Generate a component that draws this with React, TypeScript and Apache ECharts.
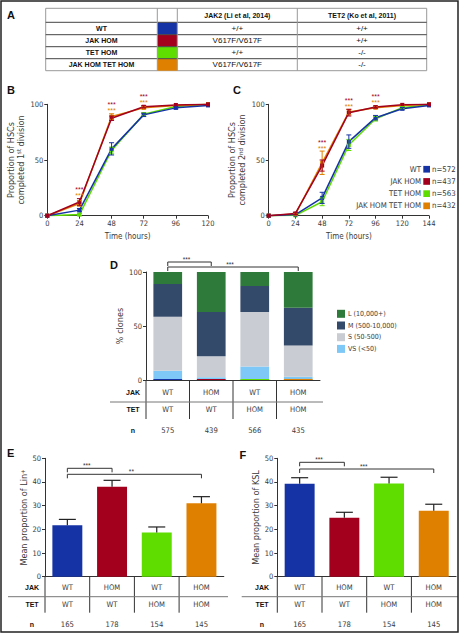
import React, { useEffect, useRef } from "react";
import * as echarts from "echarts";

// ---------------- Data ----------------
const GROUPS = ["WT", "JAK HOM", "TET HOM", "JAK HOM TET HOM"];
const JAK2_ALLELES = ["+/+", "V617F/V617F", "+/+", "V617F/V617F"];
const TET2_ALLELES = ["+/+", "+/+", "-/-", "-/-"];
const TABLE_A_HEADERS = ["JAK2 (Li et al, 2014)", "TET2 (Ko et al, 2011)"];
const GROUP_N_DIV = [572, 437, 563, 432];

// Panel B: completed 1st division (%)
const TIMES_B = [0, 24, 48, 72, 96, 120];
const B_WT = [0, 5, 60, 90.5, 96.8, 99];
const B_JAK = [0, 12.3, 87.5, 97.8, 99.4, 100];
const B_TET = [0, 1, 58.5, 91, 98, 100];
const B_JT = [0, 11, 89, 96.8, 99, 100];
const B_WT_ERR = [0, 1.5, 5.5, 1.5, 1, 0.5];
const B_JAK_ERR = [0, 3, 2, 1, 0.5, 0];
const B_TET_ERR = [0, 1, 3, 1.5, 0.5, 0];
const B_JT_ERR = [0, 2.5, 2.5, 1, 0.5, 0];
const B_STAR_TIMES = [24, 48, 72];

// Panel C: completed 2nd division (%)
const TIMES_C = [0, 24, 48, 72, 96, 120, 144];
const C_WT = [0, 1, 16, 66.5, 88, 96, 99];
const C_JAK = [0, 2, 45, 92.5, 97.5, 99.5, 100];
const C_TET = [0, 0.3, 12.5, 63.5, 87, 97, 99.8];
const C_JT = [0, 1.5, 47.5, 93, 97, 99, 100];
const C_WT_ERR = [0, 0.5, 5, 6, 2, 1, 0.5];
const C_JAK_ERR = [0, 1, 5, 3, 1, 0.5, 0];
const C_TET_ERR = [0, 0.5, 3.5, 5, 2, 1, 0.5];
const C_JT_ERR = [0, 1, 10.5, 2.5, 1, 0.5, 0];
const C_STAR_TIMES = [48, 72, 96];

// Panel D: clone size distribution (% clones)
const CLONE_CLASSES = ["VS (<50)", "S (50-500)", "M (500-10,000)", "L (10,000+)"];
const D_VS = [8.5, 2.5, 12.5, 3];
const D_S = [50, 19.5, 50.5, 29];
const D_M = [30.5, 41, 24, 35];
const D_L = [11, 37, 13, 33];
const D_JAK = ["WT", "HOM", "WT", "HOM"];
const D_TET = ["WT", "WT", "HOM", "HOM"];
const D_N = [575, 439, 566, 435];
const D_SIG = [[0, 1, 0], [0, 3, 1]];
const D_SIG_LABELS = ["***", "***"];

// Panel E: mean proportion of Lin+
const E_MEAN = [21.7, 38, 18.7, 31];
const E_SEM = [2.5, 2.7, 2.3, 2.8];
const E_JAK = ["WT", "HOM", "WT", "HOM"];
const E_TET = ["WT", "WT", "HOM", "HOM"];
const E_N = [165, 178, 154, 145];
const E_SIG = [[0, 1, 0], [0, 3, 1]];
const E_SIG_LABELS = ["***", "**"];

// Panel F: mean proportion of KSL
const F_MEAN = [39.2, 24.9, 39.4, 27.9];
const F_SEM = [2.6, 2.3, 2.6, 2.7];
const F_JAK = ["WT", "HOM", "WT", "HOM"];
const F_TET = ["WT", "WT", "HOM", "HOM"];
const F_N = [165, 178, 154, 145];
const F_SIG = [[0, 1, 0], [0, 3, 1]];
const F_SIG_LABELS = ["***", "***"];

const CATS = ["c1", "c2", "c3", "c4"];

// ---------------- Styles / layout ----------------
const GROUP_COLORS = ["#1633a6", "#a2001d", "#5fdc00", "#e08000"];
const CLONE_COLORS = ["#7ec8f7", "#c9cdd3", "#344a6b", "#2d7a3a"];
const FONT = '"DejaVu Sans Condensed", "Liberation Sans Narrow", sans-serif';
const FONT_A = '"Liberation Sans", Arial, sans-serif';
const INK = "#3a3a3a";

const GB = { left: 47.3, top: 104.3, width: 160.7, height: 111.4 };
const GC = { left: 268.7, top: 104.3, width: 160.3, height: 111.4 };
const GD = { left: 146, top: 272, width: 174, height: 108 };
const GE = { left: 45, top: 458.3, width: 178.8, height: 118.4 };
const GF = { left: 277.3, top: 458.3, width: 178.8, height: 118.4 };

const axisLine = { show: true, lineStyle: { color: "#333", width: 1 } };
const axisTick = { show: true, length: 3, lineStyle: { color: "#333", width: 1 } };
const tickLabel = { fontSize: 7.5, color: INK, fontFamily: FONT, margin: 4 };

function grid(g: any) {
  return { ...g, containLabel: false, outerBoundsMode: "none" };
}

function yAxis(gridIndex: number, max: number, interval: number, name: string, nameGap: number, rich?: any) {
  return {
    type: "value", gridIndex, min: 0, max, interval,
    splitLine: { show: false }, axisLine, axisTick, axisLabel: tickLabel,
    name, nameLocation: "middle", nameGap, nameRotate: 90,
    nameTextStyle: { fontFamily: FONT, fontSize: 9, color: INK, lineHeight: 9.5, rich },
  };
}

function timeAxis(gridIndex: number, max: number) {
  return {
    type: "value", gridIndex, min: 0, max, interval: 24,
    splitLine: { show: false }, axisLine, axisTick, axisLabel: tickLabel,
    name: "Time (hours)", nameLocation: "middle", nameGap: 17,
    nameTextStyle: { fontFamily: FONT, fontSize: 8, color: INK },
  };
}

function catAxes(gridIndex: number, rows: any[][], margins: number[]) {
  return rows.map((row, r) => ({
    type: "category", gridIndex, data: CATS, position: "bottom",
    axisLine: r === 0 ? axisLine : { show: false },
    axisTick: { show: false },
    axisLabel: {
      interval: 0, margin: margins[r], verticalAlign: "middle",
      fontSize: 7.6, color: INK, fontFamily: FONT,
      formatter: (_v: any, i: number) => String(row[i]),
    },
  }));
}

function lineSeries(xi: number, times: number[], vals: number[], color: string, name: string) {
  return {
    type: "line", name, xAxisIndex: xi, yAxisIndex: xi,
    data: times.map((t, i) => [t, vals[i]]),
    symbol: "rect", symbolSize: 4, showSymbol: true,
    lineStyle: { color, width: 1.5 }, itemStyle: { color },
    z: 3,
  };
}

function lineErrSeries(xi: number, times: number[], vals: number[], errs: number[], color: string) {
  const data = times.map((t, i) => [t, vals[i] - errs[i], vals[i] + errs[i]]).filter((_d, i) => errs[i] > 0.9);
  return {
    type: "custom", xAxisIndex: xi, yAxisIndex: xi, z: 4,
    encode: { x: 0, y: [1, 2] }, data,
    renderItem: (_p: any, api: any) => {
      const x = api.value(0);
      const a = api.coord([x, api.value(2)]);
      const b = api.coord([x, api.value(1)]);
      const w = 2.5;
      const st = { stroke: color, lineWidth: 1 };
      return {
        type: "group", children: [
          { type: "line", shape: { x1: a[0], y1: a[1], x2: b[0], y2: b[1] }, style: st },
          { type: "line", shape: { x1: a[0] - w, y1: a[1], x2: a[0] + w, y2: a[1] }, style: st },
          { type: "line", shape: { x1: b[0] - w, y1: b[1], x2: b[0] + w, y2: b[1] }, style: st },
        ],
      };
    },
  };
}

function starSeries(xi: number, times: number[], starTimes: number[], vals: number[][], errs: number[][]) {
  const data = starTimes.map((t) => {
    const i = times.indexOf(t);
    return [t, Math.max(...vals.map((v, k) => v[i] + errs[k][i]))];
  });
  return {
    type: "custom", xAxisIndex: xi, yAxisIndex: xi, z: 5,
    encode: { x: 0, y: 1 }, data,
    renderItem: (_p: any, api: any) => {
      const p = api.coord([api.value(0), api.value(1)]);
      const mk = (dy: number, fill: string) => ({
        type: "text", x: p[0], y: p[1] + dy,
        style: { text: "***", fill, fontSize: 7, lineHeight: 5.5, fontFamily: FONT_A, align: "center", verticalAlign: "middle" },
      });
      return { type: "group", children: [mk(-9, GROUP_COLORS[1]), mk(-3, GROUP_COLORS[3])] };
    },
  };
}

function bracketSeries(xi: number, yi: number, sig: number[][], labels: string[], yMax: number, offsets: number[]) {
  return {
    type: "custom", xAxisIndex: xi, yAxisIndex: yi, z: 5,
    encode: { x: [0, 1], y: 2 }, data: sig,
    renderItem: (params: any, api: any) => {
      const lvl = api.value(2);
      const top = api.coord([0, yMax])[1];
      const y = top + offsets[lvl];
      const xa = api.coord([api.value(0), yMax])[0];
      const xb = api.coord([api.value(1), yMax])[0];
      const drop = 4;
      return {
        type: "group", children: [
          { type: "polyline", shape: { points: [[xa, y + drop], [xa, y], [xb, y], [xb, y + drop]] }, style: { stroke: "#333", lineWidth: 1, fill: null } },
          { type: "text", x: (xa + xb) / 2 - 3, y: y - 0.5, style: { text: labels[params.dataIndex], fill: "#333", fontSize: 6.5, lineHeight: 5, fontFamily: FONT_A, align: "center", verticalAlign: "bottom" } },
        ],
      };
    },
  };
}

function meanErrSeries(xi: number, yi: number, means: number[], sems: number[]) {
  return {
    type: "custom", xAxisIndex: xi, yAxisIndex: yi, z: 4,
    encode: { x: 0, y: [1, 2] }, data: means.map((m, i) => [i, m, m + sems[i]]),
    renderItem: (_p: any, api: any) => {
      const x = api.value(0);
      const a = api.coord([x, api.value(2)]);
      const b = api.coord([x, api.value(1)]);
      const w = 8.5;
      const st = { stroke: "#222", lineWidth: 1.2 };
      return {
        type: "group", children: [
          { type: "line", shape: { x1: a[0], y1: a[1], x2: b[0], y2: b[1] }, style: st },
          { type: "line", shape: { x1: a[0] - w, y1: a[1], x2: a[0] + w, y2: a[1] }, style: st },
        ],
      };
    },
  };
}

function meanBarSeries(xi: number, yi: number, means: number[], name: string) {
  return {
    type: "bar", name, xAxisIndex: xi, yAxisIndex: yi, barWidth: "67%",
    data: means.map((m, i) => ({ value: m, itemStyle: { color: GROUP_COLORS[i] } })),
    z: 2,
  };
}

function tableGraphics(g: any, headerX: number, margins: number[], vlen: number, sepOff: number, sepX0: number, sepX1: number) {
  const bottom = g.top + g.height;
  const els: any[] = [];
  for (let i = 0; i < 4; i++) {
    const x = g.left + (i * g.width) / 4;
    els.push({ type: "line", shape: { x1: x, y1: bottom, x2: x, y2: bottom + vlen }, style: { stroke: "#333", lineWidth: 1 } });
  }
  els.push({ type: "line", shape: { x1: sepX0, y1: bottom + sepOff, x2: sepX1, y2: bottom + sepOff }, style: { stroke: "#777", lineWidth: 1 } });
  ["JAK", "TET", "n"].forEach((t, r) => {
    els.push({
      type: "text", x: headerX, y: bottom + margins[r],
      style: { text: t, fill: "#111", fontSize: 7, fontWeight: "bold", fontFamily: FONT_A, align: "center", verticalAlign: "middle" },
    });
  });
  return els;
}

function tableA() {
  const xs = [45.7, 157.3, 177.3, 297.3, 426.7];
  const ys = [8.3, 22.3, 34.7, 46.7, 58.7, 70.7];
  const els: any[] = [];
  const txt = (x: number, y: number, t: string, bold: boolean, size: number) => ({
    type: "text", x, y,
    style: { text: t, fill: "#111", fontSize: size, fontWeight: bold ? "bold" : "normal", fontFamily: FONT_A, align: "center", verticalAlign: "middle" },
  });
  els.push({ type: "rect", shape: { x: xs[0], y: ys[0], width: xs[4] - xs[0], height: ys[5] - ys[0] }, style: { fill: "#fff", stroke: "#999", lineWidth: 1 } });
  GROUPS.forEach((_g, i) => {
    els.push({ type: "rect", shape: { x: xs[1], y: ys[i + 1], width: xs[2] - xs[1], height: ys[i + 2] - ys[i + 1] }, style: { fill: GROUP_COLORS[i] } });
  });
  for (let i = 1; i < 5; i++) {
    els.push({ type: "line", shape: { x1: xs[0], y1: ys[i], x2: xs[4], y2: ys[i] }, style: { stroke: "#444", lineWidth: 1 } });
  }
  for (let j = 1; j < 4; j++) {
    els.push({ type: "line", shape: { x1: xs[j], y1: ys[0], x2: xs[j], y2: ys[5] }, style: { stroke: "#999", lineWidth: 1 } });
  }
  els.push(txt((xs[2] + xs[3]) / 2, (ys[0] + ys[1]) / 2, TABLE_A_HEADERS[0], true, 7));
  els.push(txt((xs[3] + xs[4]) / 2, (ys[0] + ys[1]) / 2, TABLE_A_HEADERS[1], true, 7));
  GROUPS.forEach((g, i) => {
    const cy = (ys[i + 1] + ys[i + 2]) / 2;
    els.push(txt((xs[0] + xs[1]) / 2, cy, g, true, 7));
    els.push(txt((xs[2] + xs[3]) / 2, cy, JAK2_ALLELES[i], false, 8));
    els.push(txt((xs[3] + xs[4]) / 2, cy, TET2_ALLELES[i], false, 8));
  });
  return els;
}

function legendC() {
  const rows = [169.3, 181.5, 193.7, 205.9];
  const els: any[] = [];
  GROUPS.forEach((g, i) => {
    els.push({ type: "text", x: 421, y: rows[i], style: { text: g, fill: INK, fontSize: 7.8, fontFamily: FONT, align: "right", verticalAlign: "middle" } });
    els.push({ type: "rect", shape: { x: 423.3, y: rows[i] - 3.4, width: 6.7, height: 6.7 }, style: { fill: GROUP_COLORS[i] } });
    els.push({ type: "text", x: 432, y: rows[i], style: { text: "n=" + GROUP_N_DIV[i], fill: INK, fontSize: 7.8, fontFamily: FONT, align: "left", verticalAlign: "middle" } });
  });
  return els;
}

function letters() {
  const L = [["A", 7, 15], ["B", 7, 90], ["C", 233, 90], ["D", 110, 264.5], ["E", 7, 452.5], ["F", 239.5, 454.5]];
  return L.map(([t, x, y]) => ({
    type: "text", x, y,
    style: { text: t, fill: "#111", fontSize: 11, fontWeight: "bold", fontFamily: FONT_A, align: "left", verticalAlign: "middle" },
  }));
}

function buildOption() {
  const bVals = [B_WT, B_JAK, B_TET, B_JT];
  const bErrs = [B_WT_ERR, B_JAK_ERR, B_TET_ERR, B_JT_ERR];
  const cVals = [C_WT, C_JAK, C_TET, C_JT];
  const cErrs = [C_WT_ERR, C_JAK_ERR, C_TET_ERR, C_JT_ERR];
  const drawOrder = [2, 3, 0, 1];
  const sup = { sup: { fontSize: 6, verticalAlign: "top", fontFamily: FONT, color: INK, lineHeight: 9.5 } };

  const series: any[] = [];
  drawOrder.forEach((k) => series.push(lineSeries(0, TIMES_B, bVals[k], GROUP_COLORS[k], GROUPS[k] + " B")));
  drawOrder.forEach((k) => series.push(lineErrSeries(0, TIMES_B, bVals[k], bErrs[k], GROUP_COLORS[k])));
  series.push(starSeries(0, TIMES_B, B_STAR_TIMES, bVals, bErrs));
  drawOrder.forEach((k) => series.push(lineSeries(1, TIMES_C, cVals[k], GROUP_COLORS[k], GROUPS[k] + " C")));
  drawOrder.forEach((k) => series.push(lineErrSeries(1, TIMES_C, cVals[k], cErrs[k], GROUP_COLORS[k])));
  series.push(starSeries(1, TIMES_C, C_STAR_TIMES, cVals, cErrs));

  const dVals = [D_VS, D_S, D_M, D_L];
  dVals.forEach((v, k) => series.push({
    type: "bar", name: CLONE_CLASSES[k], stack: "d", xAxisIndex: 2, yAxisIndex: 2,
    barWidth: "66%", barGap: "-100%", data: v, itemStyle: { color: CLONE_COLORS[k] },
  }));
  series.push({
    type: "bar", name: "genotype", xAxisIndex: 2, yAxisIndex: 2, barWidth: "66%", barGap: "-100%", z: 3,
    data: CATS.map((_c, i) => ({ value: 1, itemStyle: { color: GROUP_COLORS[i] } })),
  });
  series.push(bracketSeries(2, 2, D_SIG, D_SIG_LABELS, 100, [-10, -5]));

  series.push(meanBarSeries(5, 3, E_MEAN, "Lin+"));
  series.push(meanErrSeries(5, 3, E_MEAN, E_SEM));
  series.push(bracketSeries(5, 3, E_SIG, E_SIG_LABELS, 50, [10, 16]));

  series.push(meanBarSeries(8, 4, F_MEAN, "KSL"));
  series.push(meanErrSeries(8, 4, F_MEAN, F_SEM));
  series.push(bracketSeries(8, 4, F_SIG, F_SIG_LABELS, 50, [4, 10.7]));

  return {
    animation: false,
    backgroundColor: "#fff",
    textStyle: { fontFamily: FONT },
    grid: [grid(GB), grid(GC), grid(GD), grid(GE), grid(GF)],
    xAxis: [
      timeAxis(0, 120),
      timeAxis(1, 144),
      ...catAxes(2, [D_JAK, D_TET, D_N], [12, 29, 50]),
      ...catAxes(3, [E_JAK, E_TET, E_N], [11, 27.5, 48]),
      ...catAxes(4, [F_JAK, F_TET, F_N], [11, 27.5, 48]),
    ],
    yAxis: [
      yAxis(0, 100, 50, "Proportion of HSCs\ncompleted 1{sup|st} division", 22, sup),
      yAxis(1, 100, 50, "Proportion of HSCs\ncompleted 2{sup|nd} division", 22, sup),
      yAxis(2, 100, 50, "% clones", 20),
      yAxis(3, 50, 10, "Mean proportion of Lin{sup|+}", 16, sup),
      yAxis(4, 50, 10, "Mean proportion of KSL", 16),
    ],
    legend: {
      data: [CLONE_CLASSES[3], CLONE_CLASSES[2], CLONE_CLASSES[1], CLONE_CLASSES[0]],
      orient: "vertical", left: 332, top: 304.8, itemWidth: 8, itemHeight: 8, itemGap: 3.7,
      icon: "rect", selectedMode: false,
      textStyle: { fontSize: 7, color: INK, fontFamily: FONT, lineHeight: 8, padding: [0, 0, 0, -2] },
    },
    series,
    graphic: [
      { type: "rect", shape: { x: 1, y: 1, width: 457, height: 631 }, style: { fill: "none", stroke: "#222", lineWidth: 1.5 }, z: 10 },
      ...letters(),
      ...tableA(),
      ...legendC(),
      ...tableGraphics(GD, 133, [12, 29, 50], 39, 22, 110, 323),
      ...tableGraphics(GE, 32, [11, 27.5, 48], 36, 20, 8, 228),
      ...tableGraphics(GF, 262, [11, 27.5, 48], 36, 20, 241.7, 458),
    ],
  };
}

export default function App() {
  const ref = useRef<HTMLDivElement>(null);
  useEffect(() => {
    const chart = echarts.init(ref.current!, null, { renderer: "svg" });
    chart.setOption(buildOption() as any);
    return () => chart.dispose();
  }, []);
  return (
    <div
      ref={ref}
      style={{ position: "absolute", left: 0, top: 0, width: 461, height: 634, background: "#fff" }}
    />
  );
}
